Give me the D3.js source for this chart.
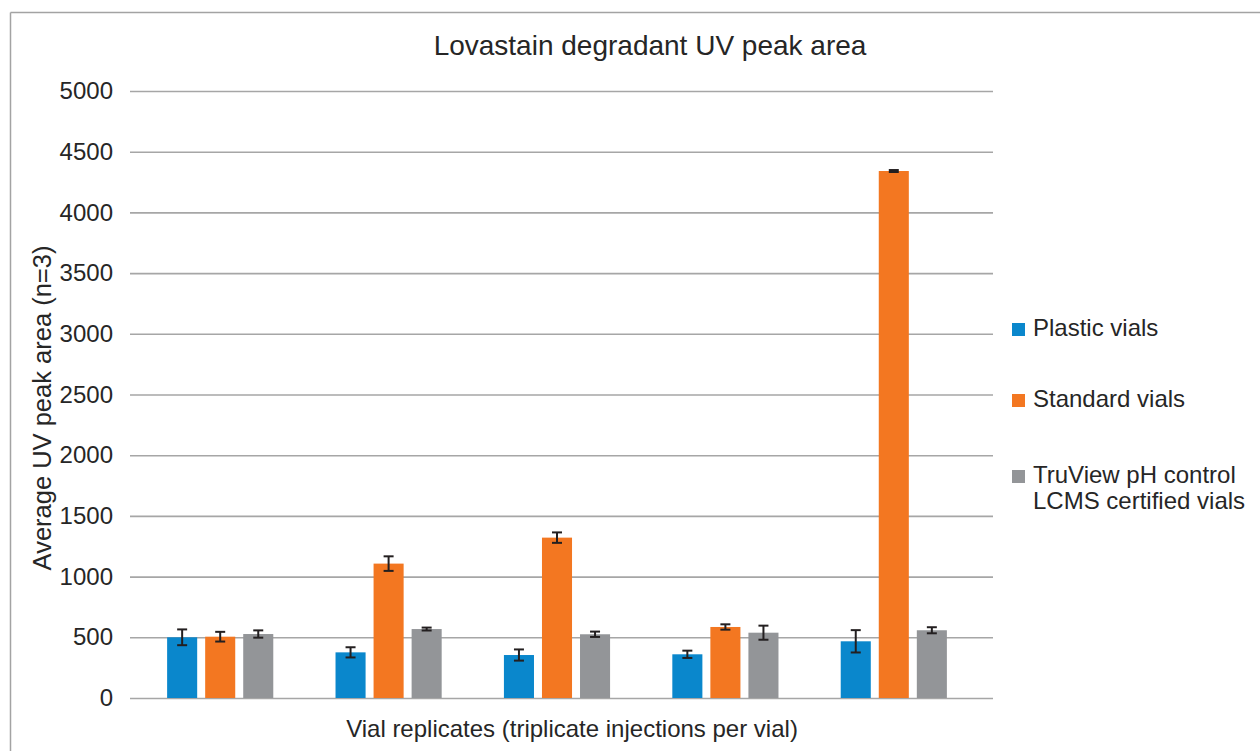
<!DOCTYPE html>
<html>
<head>
<meta charset="utf-8">
<script src="https://cdn.jsdelivr.net/npm/d3@7"></script>
<style>
  body { margin: 0; background: #fff; }
  svg { display: block; font-family: "Liberation Sans", Arial, sans-serif; }
</style>
</head>
<body>
<div id="chart"></div>
<script>
// data
const vials = ["Vial 1", "Vial 2", "Vial 3", "Vial 4", "Vial 5"];
const seriesNames = ["Plastic vials", "Standard vials", "TruView pH control LCMS certified vials"];
const plastic = [500, 376, 354, 360, 467];
const standard = [505, 1107, 1321, 585, 4341];
const truview = [527, 568, 525, 538, 558];
const plasticErr = [65, 42, 46, 30, 92];
const standardErr = [40, 60, 43, 22, 8];
const truviewErr = [30, 12, 22, 58, 25];
const yTicks = [0, 500, 1000, 1500, 2000, 2500, 3000, 3500, 4000, 4500, 5000];

const colors = ["#0a87cc", "#f37721", "#939598"];

const width = 1260,
  height = 751;
const plot = { left: 130, right: 993, top: 91, bottom: 698 };

const svg = d3
  .select("#chart")
  .append("svg")
  .attr("width", width)
  .attr("height", height);

// frame (only top and left edges show)
svg.append("line")
  .attr("x1", 10.5).attr("x2", width).attr("y1", 12.5).attr("y2", 12.5)
  .attr("stroke", "#a3a3a3").attr("stroke-width", 1.5);
svg.append("line")
  .attr("x1", 10.5).attr("x2", 10.5).attr("y1", 12.5).attr("y2", height)
  .attr("stroke", "#a3a3a3").attr("stroke-width", 1.5);

const y = d3.scaleLinear().domain([0, 5000]).range([plot.bottom, plot.top]);

const x0 = d3.scaleBand().domain(vials).range([136, 978]).padding(0);
const x1 = d3
  .scaleBand()
  .domain(seriesNames)
  .range([0, x0.bandwidth()])
  .paddingInner(0.21)
  .paddingOuter(0.818);

// gridlines + tick labels
const yAxis = svg
  .append("g")
  .attr("transform", `translate(${plot.left},0)`)
  .call(
    d3.axisLeft(y)
      .tickValues(yTicks)
      .tickFormat(d3.format("d"))
      .tickSize(-(plot.right - plot.left))
      .tickPadding(17)
  );
yAxis.select(".domain").remove();
yAxis.selectAll(".tick line").attr("stroke", "#a6a6a6").attr("stroke-width", 1.6);
yAxis.selectAll(".tick text")
  .attr("font-size", 24)
  .attr("fill", "#262626")
  .attr("font-family", "Liberation Sans, Arial, sans-serif");

const rows = vials.map((v, i) => ({
  vial: v,
  values: [
    { name: seriesNames[0], value: plastic[i], err: plasticErr[i] },
    { name: seriesNames[1], value: standard[i], err: standardErr[i] },
    { name: seriesNames[2], value: truview[i], err: truviewErr[i] },
  ],
}));

const groups = svg
  .selectAll(".group")
  .data(rows)
  .join("g")
  .attr("class", "group")
  .attr("transform", (d) => `translate(${x0(d.vial)},0)`);

groups
  .selectAll("rect")
  .data((d) => d.values)
  .join("rect")
  .attr("x", (d) => x1(d.name))
  .attr("width", x1.bandwidth())
  .attr("y", (d) => y(d.value))
  .attr("height", (d) => y(0) - y(d.value))
  .attr("fill", (d, i) => colors[i]);

// error bars
const errG = groups
  .selectAll(".err")
  .data((d) => d.values)
  .join("g")
  .attr("class", "err")
  .attr("stroke", "#231f20")
  .attr("stroke-width", 2);

errG.append("line")
  .attr("x1", (d) => x1(d.name) + x1.bandwidth() / 2)
  .attr("x2", (d) => x1(d.name) + x1.bandwidth() / 2)
  .attr("y1", (d) => y(d.value - d.err))
  .attr("y2", (d) => y(d.value + d.err));
errG.append("line")
  .attr("x1", (d) => x1(d.name) + x1.bandwidth() / 2 - 5)
  .attr("x2", (d) => x1(d.name) + x1.bandwidth() / 2 + 5)
  .attr("y1", (d) => y(d.value + d.err))
  .attr("y2", (d) => y(d.value + d.err));
errG.append("line")
  .attr("x1", (d) => x1(d.name) + x1.bandwidth() / 2 - 5)
  .attr("x2", (d) => x1(d.name) + x1.bandwidth() / 2 + 5)
  .attr("y1", (d) => y(d.value - d.err))
  .attr("y2", (d) => y(d.value - d.err));

// title
svg.append("text")
  .attr("x", 650)
  .attr("y", 55)
  .attr("text-anchor", "middle")
  .attr("font-size", 28)
  .attr("fill", "#262626")
  .text("Lovastain degradant UV peak area");

// axis titles
svg.append("text")
  .attr("x", 572)
  .attr("y", 737)
  .attr("text-anchor", "middle")
  .attr("font-size", 24)
  .attr("fill", "#262626")
  .text("Vial replicates (triplicate injections per vial)");

svg.append("text")
  .attr("transform", "translate(51,408) rotate(-90)")
  .attr("text-anchor", "middle")
  .attr("font-size", 25.5)
  .attr("fill", "#262626")
  .text("Average UV peak area (n=3)");

// legend
const legendRows = [
  { lines: ["Plastic vials"], y: 336 },
  { lines: ["Standard vials"], y: 407 },
  { lines: ["TruView pH control", "LCMS certified vials"], y: 483 },
];
const legend = svg
  .selectAll(".legend")
  .data(legendRows)
  .join("g")
  .attr("class", "legend")
  .attr("transform", (d) => `translate(1012,${d.y})`);

legend.append("rect")
  .attr("x", 0)
  .attr("y", -13)
  .attr("width", 13)
  .attr("height", 13)
  .attr("fill", (d, i) => colors[i]);

legend.append("text")
  .attr("x", 21)
  .attr("font-size", 24)
  .attr("fill", "#262626")
  .selectAll("tspan")
  .data((d) => d.lines)
  .join("tspan")
  .attr("x", 21)
  .attr("dy", (d, i) => (i === 0 ? 0 : 26))
  .text((d) => d);
</script>
</body>
</html>
